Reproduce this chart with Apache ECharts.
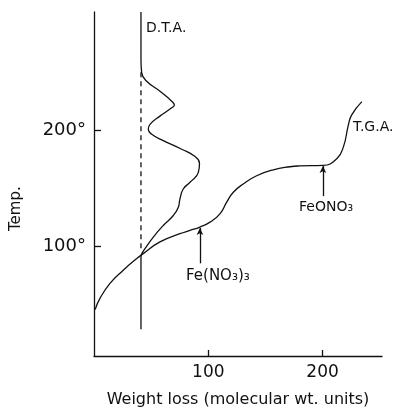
<!DOCTYPE html>
<html>
<head>
<meta charset="utf-8">
<script src="https://cdn.jsdelivr.net/npm/echarts@6/dist/echarts.min.js"></script>
<style>
  html, body { margin: 0; background: #fff; }
  #chart { width: 398px; height: 413px; }
</style>
</head>
<body>
<div id="chart"></div>
<script>
// values (x = weight loss, y = temp)
const tickValues = [100, 200];
const yTickLabels = ['100°', '200°'];

const tgaCurve = [
    [1, 45], [5.2, 54.8], [14, 67.7], [25.6, 79.1], [37.4, 89.1], [43.1, 93.4],
    [57.7, 103.5], [75.2, 110.6], [84, 113.4], [92.7, 116.3], [101.5, 120.6],
    [110.2, 127.7], [116.1, 137.8], [121.9, 146.4], [130.6, 153.5], [142.3, 160.6],
    [156.9, 165.8], [171.5, 168.4], [180, 169.1], [200.3, 169.5], [212.6, 175.5],
    [218.3, 185.8], [222.6, 204.6], [225.5, 213.2], [234.4, 224.6]
];

const dtaCurve = [
    [41.1, 302], [41.1, 260.8], [41.7, 249.6], [46.1, 242.2], [57.7, 233.6],
    [68, 225], [70.3, 221.6], [68, 219.3], [57.7, 212.1], [49, 205], [47.5, 200.7],
    [50.5, 196.4], [60.6, 191], [76.7, 183.5], [87.5, 177.8], [92.3, 171.5],
    [91.3, 163.5], [84, 155], [78.1, 149.2], [75.2, 140.7], [73.8, 133.5],
    [69.4, 126.3], [60.6, 117.7], [51.9, 107.7], [44.6, 97.7], [41.7, 93],
    [41.1, 90], [41.1, 28.2]
];

const dtaBaseline = [[41.1, 250], [41.1, 95]];

const feNO3Arrow = [[92.7, 85], [92.7, 115.5]];
const feONO3Arrow = [[200.3, 143], [200.3, 169]];

const chart = echarts.init(document.getElementById('chart'));

const ink = '#111';
const font = 'DejaVu Sans';

function arrow(pts) {
    return [{ coord: pts[0] }, { coord: pts[1] }];
}

const option = {
    animation: false,
    backgroundColor: '#fff',
    grid: { left: 94, right: 16, top: 12, bottom: 55 },
    xAxis: {
        type: 'value',
        min: 0,
        max: 252,
        name: 'Weight loss (molecular wt. units)',
        nameLocation: 'middle',
        nameGap: 36,
        nameTextStyle: { color: ink, fontFamily: font, fontSize: 16 },
        axisLine: { lineStyle: { color: ink, width: 1.3 } },
        axisTick: { inside: true, length: 6, customValues: tickValues, lineStyle: { color: ink, width: 1.3 } },
        axisLabel: { customValues: tickValues, color: ink, fontFamily: font, fontSize: 17, margin: 8 },
        splitLine: { show: false }
    },
    yAxis: {
        type: 'value',
        min: 5,
        max: 302,
        axisLine: { show: true, lineStyle: { color: ink, width: 1.3 } },
        axisTick: { show: true, inside: true, length: 7, customValues: tickValues, lineStyle: { color: ink, width: 1.3 } },
        axisLabel: {
            customValues: tickValues,
            color: ink, fontFamily: font, fontSize: 18, margin: 8,
            formatter: v => yTickLabels[tickValues.indexOf(v)]
        },
        splitLine: { show: false }
    },
    series: [
        {
            name: 'T.G.A.',
            type: 'line',
            data: tgaCurve,
            smooth: 0.5,
            symbol: 'none',
            lineStyle: { color: ink, width: 1.3 },
            markLine: {
                silent: true,
                symbol: ['none', 'arrow'],
                symbolSize: [5, 7],
                label: { show: false },
                lineStyle: { color: ink, width: 1.3, type: 'solid' },
                data: [arrow(feNO3Arrow), arrow(feONO3Arrow)]
            }
        },
        {
            name: 'D.T.A.',
            type: 'line',
            data: dtaCurve,
            smooth: 0.5,
            symbol: 'none',
            lineStyle: { color: ink, width: 1.3 }
        },
        {
            name: 'baseline',
            type: 'line',
            data: dtaBaseline,
            symbol: 'none',
            lineStyle: { color: ink, width: 1.3, type: [5, 4] }
        }
    ],
    graphic: [
        { type: 'text', left: 146, top: 21, style: { text: 'D.T.A.', fill: ink, font: '14px "DejaVu Sans"' } },
        { type: 'text', left: 353, top: 120, style: { text: 'T.G.A.', fill: ink, font: '14px "DejaVu Sans"' } },
        { type: 'text', left: 299, top: 200, style: { text: 'FeONO₃', fill: ink, font: '14px "DejaVu Sans"' } },
        { type: 'text', left: 186, top: 269, style: { text: 'Fe(NO₃)₃', fill: ink, font: '15px "DejaVu Sans"' } },
        { type: 'text', x: 9, y: 231, rotation: Math.PI / 2, style: { text: 'Temp.', fill: ink, font: '15px "DejaVu Sans"' } }
    ]
};

chart.setOption(option);
</script>
</body>
</html>
